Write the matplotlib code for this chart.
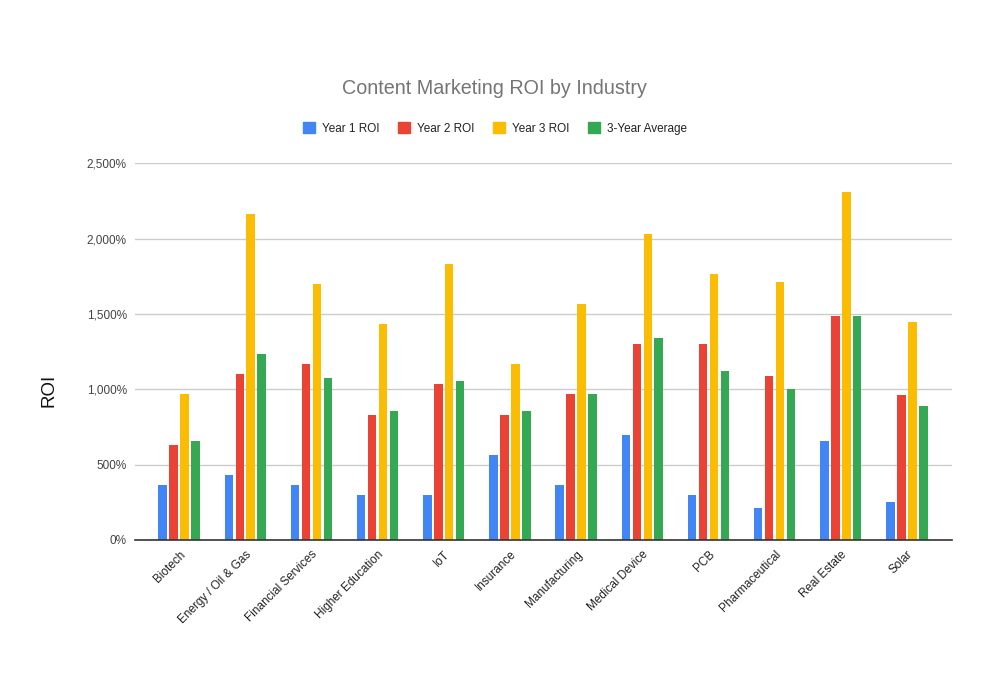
import numpy as np
import matplotlib
matplotlib.use('Agg')
import matplotlib.pyplot as plt
from matplotlib.patches import Patch
from matplotlib.ticker import FuncFormatter, MultipleLocator

plt.rcParams['font.family'] = ['Liberation Sans', 'DejaVu Sans']

industries = ['Biotech', 'Energy / Oil & Gas', 'Financial Services', 'Higher Education',
              'IoT', 'Insurance', 'Manufacturing', 'Medical Device', 'PCB',
              'Pharmaceutical', 'Real Estate', 'Solar']
year1 = [365, 431, 365, 299, 299, 564, 365, 697, 299, 212, 657, 252]
year2 = [630, 1102, 1168, 830, 1035, 830, 969, 1301, 1301, 1088, 1487, 962]
year3 = [969, 2164, 1699, 1436, 1832, 1168, 1566, 2031, 1765, 1712, 2310, 1447]
avg3 = [657, 1235, 1075, 856, 1055, 856, 969, 1341, 1122, 1002, 1487, 889]

series_names = ['Year 1 ROI', 'Year 2 ROI', 'Year 3 ROI', '3-Year Average']
colors = ['#4285F4', '#EA4335', '#FBBC04', '#34A853']

fig = plt.figure(figsize=(9.9, 7), dpi=100)
ax = fig.add_axes([0.1364, 0.2286, 0.8252, 0.5381])

x = np.arange(len(industries))
step = 0.165
width = 0.128
for i, (vals, color) in enumerate(zip([year1, year2, year3, avg3], colors)):
    ax.bar(x + (i - 1.5) * step, vals, width=width, color=color, zorder=3)

ax.set_xlim(-0.665, 11.68)
ax.set_ylim(0, 2500)
ax.yaxis.set_major_locator(MultipleLocator(500))
ax.yaxis.set_major_formatter(FuncFormatter(lambda v, p: '{:,.0f}%'.format(v)))
ax.grid(axis='y', color='#cccccc', linewidth=1, zorder=0)

for s in ['top', 'right', 'left']:
    ax.spines[s].set_visible(False)
ax.spines['bottom'].set_color('#333333')
ax.spines['bottom'].set_linewidth(1.2)
ax.spines['bottom'].set_zorder(4)

ax.set_xticks(x)
ax.set_xticklabels(industries, rotation=45, ha='right', rotation_mode='anchor',
                   fontsize=8.5, color='#222222')
ax.tick_params(axis='x', length=0, pad=6)
ax.tick_params(axis='y', length=0, pad=6, labelsize=8.5, labelcolor='#444444')

fig.text(0.049, 0.443, 'ROI', rotation=90, ha='center', va='center',
         fontsize=13.5, color='#111111')

fig.text(0.499, 1 - 89 / 700, 'Content Marketing ROI by Industry', ha='center',
         va='center', fontsize=14.2, color='#757575')

handles = [Patch(facecolor=c, edgecolor=c) for c in colors]
fig.legend(handles, series_names, loc='center', bbox_to_anchor=(0.5, 1 - 128.5 / 700),
           ncol=4, frameon=False, fontsize=8.5, handlelength=1.0, handleheight=1.0,
           handletextpad=0.6, columnspacing=1.6, labelcolor='#222222')

fig.savefig('out.png', dpi=100)
